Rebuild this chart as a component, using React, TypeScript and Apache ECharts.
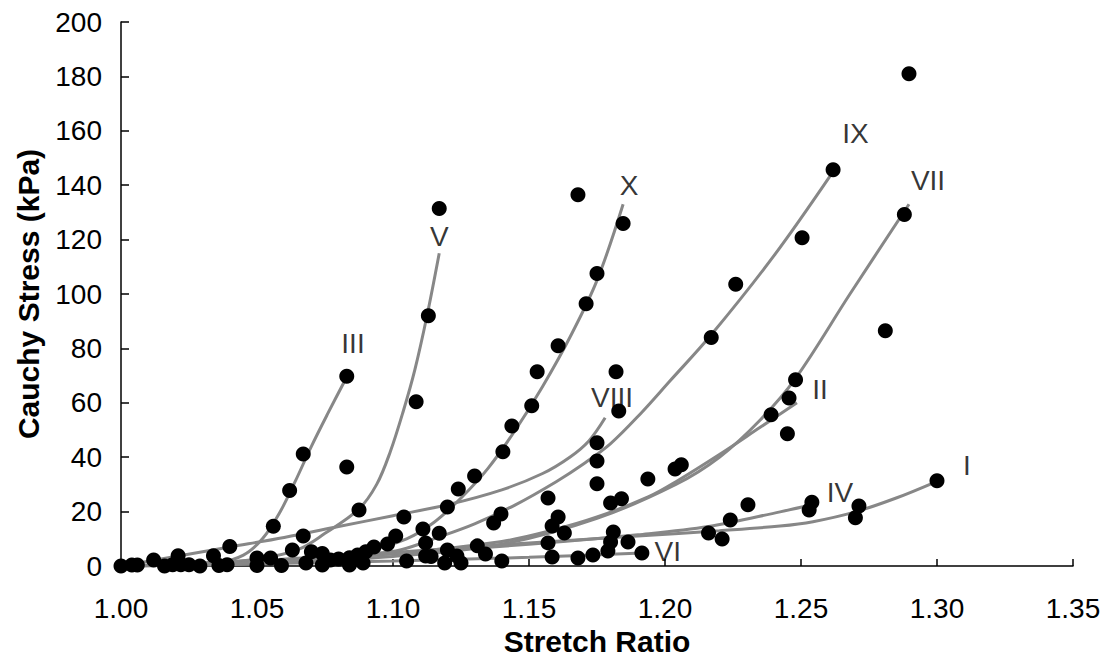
import React, { useEffect, useRef } from "react";
import * as echarts from "echarts";

// Measured points: [stretch ratio, Cauchy stress (kPa)]
const measuredPoints: number[][] = [
  [1.0, 0], [1.004, 0.4], [1.006, 0.4], [1.012, 2.2], [1.016, 0], [1.019, 0.5],
  [1.021, 3.8], [1.022, 0.5], [1.025, 0.5], [1.029, 0], [1.034, 3.8], [1.036, 0.2],
  [1.039, 0.5], [1.04, 7.2], [1.05, 2.9], [1.05, 0.2], [1.055, 2.9], [1.056, 14.6],
  [1.059, 0.2], [1.062, 27.8], [1.063, 5.9], [1.067, 11.0], [1.067, 41.2], [1.068, 1.1],
  [1.07, 5.2], [1.074, 4.6], [1.074, 0.4], [1.077, 2.2], [1.08, 2.6], [1.083, 69.8],
  [1.083, 36.4], [1.084, 3.0], [1.084, 0.4], [1.087, 4.0], [1.0875, 20.6], [1.089, 1.1],
  [1.09, 5.2], [1.093, 7.0], [1.098, 8.1], [1.101, 11.0], [1.104, 18.0], [1.105, 1.8],
  [1.1085, 60.4], [1.111, 13.6], [1.112, 8.5], [1.112, 3.7], [1.113, 92.0], [1.114, 3.5],
  [1.117, 131.4], [1.117, 12.0], [1.12, 21.7], [1.12, 5.9], [1.119, 1.1], [1.1235, 3.7],
  [1.124, 28.3], [1.125, 1.1], [1.13, 33.1], [1.131, 7.4], [1.134, 4.4], [1.137, 15.8],
  [1.1397, 19.1], [1.14, 1.8], [1.1404, 42.0], [1.1437, 51.5], [1.151, 58.9], [1.153, 71.4],
  [1.157, 25.0], [1.157, 8.5], [1.1585, 14.7], [1.1585, 3.3], [1.1607, 18.0], [1.1607, 81.0],
  [1.163, 12.1], [1.168, 2.9], [1.168, 136.5], [1.171, 96.4], [1.1735, 4.0], [1.175, 107.5],
  [1.175, 45.3], [1.175, 38.6], [1.175, 30.2], [1.179, 5.5], [1.18, 8.8], [1.18, 23.2],
  [1.181, 12.5], [1.182, 71.4], [1.183, 57.0], [1.184, 24.7], [1.1846, 125.9], [1.1864, 8.8],
  [1.1915, 4.8], [1.1937, 32.0], [1.2037, 35.7], [1.206, 37.2], [1.216, 12.1], [1.217, 84.0],
  [1.221, 9.9], [1.224, 16.9], [1.226, 103.6], [1.2305, 22.5], [1.239, 55.6], [1.245, 48.6],
  [1.2456, 61.8], [1.248, 68.5], [1.2504, 120.7], [1.253, 20.6], [1.254, 23.4], [1.2618, 145.7],
  [1.27, 17.7], [1.2713, 22.1], [1.281, 86.5], [1.288, 129.2], [1.2897, 181.0], [1.3, 31.3],
];

// Fitted curves
const curveI = [[1.0, 0], [1.05, 2], [1.1, 5], [1.15, 8.5], [1.19, 11], [1.22, 13], [1.2423, 14.7], [1.2544, 16.3], [1.27, 19.9], [1.285, 25], [1.2985, 30.5]];
const curveII = [[1.0, 0], [1.05, 1.2], [1.1, 4.5], [1.14, 9], [1.158, 13], [1.175, 18], [1.194, 25.5], [1.204, 31], [1.22, 41], [1.235, 51], [1.2485, 60]];
const curveIII = [[1.0, 0], [1.02, 0.3], [1.035, 1], [1.045, 4], [1.052, 10], [1.058, 19], [1.064, 31], [1.07, 44], [1.076, 56], [1.083, 69.5]];
const curveIV = [[1.0, 0], [1.05, 1.5], [1.1, 4.5], [1.15, 8], [1.19, 11.5], [1.216, 14.5], [1.2423, 19.9], [1.254, 22.5]];
const curveV = [[1.0, 0], [1.03, 0.8], [1.05, 2.5], [1.065, 6], [1.075, 12], [1.0875, 21], [1.094, 30], [1.099, 42], [1.1038, 57], [1.108, 72], [1.1125, 92], [1.117, 115]];
const curveVI = [[1.0, 0], [1.05, 0.8], [1.1, 1.8], [1.15, 3.2], [1.1915, 4.8]];
const curveVII = [[1.0, 0], [1.05, 0.8], [1.1, 3.5], [1.14, 8], [1.175, 17.5], [1.204, 30], [1.22, 40], [1.235, 53.7], [1.248, 69], [1.268, 100], [1.2897, 133]];
const curveVIII = [[1.0, 0], [1.02, 3.5], [1.04, 7], [1.06, 10.5], [1.08, 14.5], [1.1, 18.5], [1.12, 22.5], [1.14, 28], [1.155, 34], [1.165, 40], [1.172, 46], [1.178, 54.5]];
const curveIX = [[1.0, 0], [1.04, 1], [1.07, 2.5], [1.09, 4.2], [1.103, 6], [1.117, 10.7], [1.13, 15.5], [1.145, 22.5], [1.16, 31], [1.17, 37.5], [1.18, 45], [1.191, 56], [1.2018, 68], [1.217, 85], [1.24, 114], [1.2618, 145]];
const curveX = [[1.0, 0], [1.04, 0.8], [1.07, 2.5], [1.09, 5.5], [1.105, 10], [1.115, 16], [1.125, 25], [1.135, 36], [1.145, 50], [1.155, 66], [1.165, 84], [1.175, 105], [1.1846, 133]];

const curveNames = ["I", "II", "III", "IV", "V", "VI", "VII", "VIII", "IX", "X"];
const curves = [curveI, curveII, curveIII, curveIV, curveV, curveVI, curveVII, curveVIII, curveIX, curveX];

// Curve label anchors: [x, y, text]
const curveLabels: (number | string)[][] = [
  [1.311, 36.8, "I"], [1.257, 64.8, "II"], [1.0853, 81.7, "III"], [1.2643, 26.9, "IV"],
  [1.117, 121, "V"], [1.201, 5.2, "VI"], [1.2967, 141.7, "VII"], [1.1805, 62, "VIII"],
  [1.27, 159, "IX"], [1.1868, 140, "X"],
];

const xTicks = { min: 1.0, max: 1.35, interval: 0.05 };
const yTicks = { min: 0, max: 200, interval: 20 };

const FONT = "Liberation Sans, Arial, sans-serif";

export default function App() {
  const ref = useRef<HTMLDivElement>(null);
  useEffect(() => {
    document.body.style.margin = "0";
    if (!ref.current) return;
    const chart = echarts.init(ref.current, null, { renderer: "svg" });
    const lineSeries = curves.map((c, i) => ({
      name: curveNames[i],
      type: "line",
      data: c,
      smooth: 0.35,
      showSymbol: false,
      symbol: "none",
      lineStyle: { color: "#878787", width: 3 },
      z: 2,
      silent: true,
    }));
    chart.setOption({
      animation: false,
      backgroundColor: "#ffffff",
      grid: { left: 121, right: 34, top: 22, bottom: 94, outerBoundsMode: "none" },
      xAxis: {
        type: "value",
        min: xTicks.min,
        max: xTicks.max,
        interval: xTicks.interval,
        name: "Stretch Ratio",
        nameLocation: "middle",
        nameGap: 59,
        nameTextStyle: { fontFamily: FONT, fontSize: 30, fontWeight: "bold", color: "#000" },
        axisLine: { show: true, lineStyle: { color: "#000", width: 1.5 } },
        axisTick: { show: true, inside: true, length: 7, lineStyle: { color: "#000", width: 1.5 } },
        axisLabel: {
          fontFamily: FONT, fontSize: 28, color: "#000", margin: 28,
          formatter: (v: number) => v.toFixed(2),
        },
        splitLine: { show: false },
      },
      yAxis: {
        type: "value",
        min: yTicks.min,
        max: yTicks.max,
        interval: yTicks.interval,
        name: "Cauchy Stress (kPa)",
        nameLocation: "middle",
        nameGap: 78,
        nameTextStyle: { fontFamily: FONT, fontSize: 30, fontWeight: "bold", color: "#000" },
        axisLine: { show: true, lineStyle: { color: "#000", width: 1.5 } },
        axisTick: { show: true, inside: true, length: 8, lineStyle: { color: "#000", width: 1.5 } },
        axisLabel: { fontFamily: FONT, fontSize: 28, color: "#000", margin: 19 },
        splitLine: { show: false },
      },
      series: [
        ...lineSeries,
        {
          name: "Measured",
          type: "scatter",
          data: measuredPoints,
          symbol: "circle",
          symbolSize: 15,
          itemStyle: { color: "#000", opacity: 1 },
          z: 3,
          silent: true,
        },
        {
          name: "Labels",
          type: "scatter",
          data: curveLabels,
          symbolSize: 0,
          z: 4,
          silent: true,
          label: {
            show: true,
            position: "inside",
            formatter: (p: any) => p.data[2],
            fontFamily: FONT,
            fontSize: 28,
            color: "#000",
          },
        },
      ],
    });
    return () => chart.dispose();
  }, []);
  return <div ref={ref} style={{ width: 1107, height: 660 }} />;
}
